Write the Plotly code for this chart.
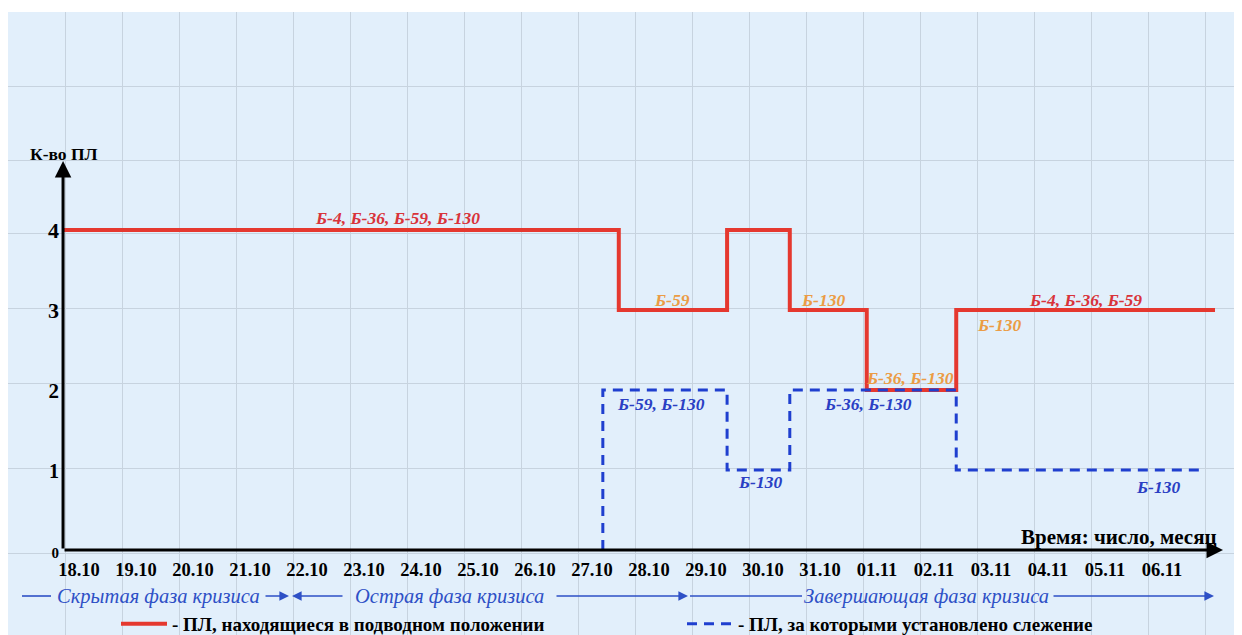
import plotly.graph_objects as go

# ---------------- data ----------------
day_labels = ["18.10", "19.10", "20.10", "21.10", "22.10", "23.10", "24.10",
              "25.10", "26.10", "27.10", "28.10", "29.10", "30.10", "31.10",
              "01.11", "02.11", "03.11", "04.11", "05.11", "06.11"]
day_index = list(range(len(day_labels)))

count_ticks = [0, 1, 2, 3, 4]
count_tick_text = ["<span style='font-size:15px'>0</span>",
                   "<span style='font-size:20px'>1</span>",
                   "<span style='font-size:21px'>2</span>",
                   "<span style='font-size:22px'>3</span>",
                   "<span style='font-size:22px'>4</span>"]

# submarines submerged (step line, time in days from 18.10)
sub_x = [-0.28, 9.47, 11.37, 12.47, 13.82, 15.39, 19.93]
sub_y = [4, 3, 4, 3, 2, 3, 3]
# submarines under tracking
track_x = [9.19, 9.19, 11.37, 12.47, 15.39, 19.72]
track_y = [0, 2, 1, 2, 1, 1]

sub_name = "- ПЛ, находящиеся в подводном положении"
track_name = "- ПЛ, за которыми установлено слежение"

# boat labels: text, level they annotate
label_text = ["Б-4, Б-36, Б-59, Б-130", "Б-59", "Б-130", "Б-36, Б-130", "Б-130",
              "Б-4, Б-36, Б-59", "Б-59, Б-130", "Б-130", "Б-36, Б-130", "Б-130"]
label_level = [4, 3, 3, 2, 3, 3, 2, 1, 2, 1]

# ---------------- styling helpers (screen pixels) ----------------
SCR_W = 1242
BODY = 8                          # default html body margin
PL, PT = 8, 12                    # plot area top-left on screen
PB = 645                          # plot area bottom on screen (below the window)
FIG_W, FIG_H = SCR_W - BODY, PB - BODY
X0_PX, X_STEP = 79.0, 57.0        # pixel of day 0 and pixels per day
Y0_PX, Y_STEP = 550.0, 80.0       # pixel of count 0 and pixels per unit
PW, PH = SCR_W - PL, PB - PT


def px2x(px):
    return (px - X0_PX) / X_STEP


def px2y(py):
    return (Y0_PX - py) / Y_STEP


x_range = [px2x(PL), px2x(SCR_W)]
y_range = [px2y(PB), px2y(PT)]

SERIF = "Liberation Serif"
RED = "#e5382f"
RED_TXT = "#d9333a"
ORANGE = "#eb9c45"
BLUE = "#1f3fcf"
BLUE_TXT = "#2a3fc4"
PHASE = "#2e50c6"
BG = "#e2effb"
GRID = "#c7d3df"

fig = go.Figure()

fig.add_trace(go.Scatter(
    x=sub_x, y=sub_y, mode="lines", line_shape="hv",
    line=dict(color=RED, width=4), name=sub_name, legendwidth=505,
    hoverinfo="skip"))
fig.add_trace(go.Scatter(
    x=track_x, y=track_y, mode="lines", line_shape="hv",
    line=dict(color=BLUE, width=3, dash="10px,7px"), name=track_name,
    legendwidth=420, hoverinfo="skip"))
# empty trace to hold the grid overlay axes
fig.add_trace(go.Scatter(x=[], y=[], xaxis="x2", yaxis="y2",
                         showlegend=False, hoverinfo="skip"))

ann = []

# (x centre in px, vertical offset in px from its level, colour)
label_style = [(397, 12, RED_TXT), (672, 10, ORANGE), (823, 10, ORANGE),
               (910, 12, ORANGE), (999, -15, ORANGE), (1085, 10, RED_TXT),
               (661, -14, BLUE_TXT), (760, -12, BLUE_TXT), (868, -14, BLUE_TXT),
               (1158, -17, BLUE_TXT)]
for txt, lvl, (cx, dy, col) in zip(label_text, label_level, label_style):
    ann.append(dict(x=px2x(cx), y=lvl, yshift=dy, xref="x", yref="y", text=txt,
                    showarrow=False, xanchor="center", yanchor="middle",
                    font=dict(family=SERIF, size=17.5, color=col,
                              weight="bold", style="italic")))

# axis arrows
ann.append(dict(x=px2x(1223), y=0, ax=sub_x[0], ay=0, xref="x", yref="y",
                axref="x", ayref="y", text="", showarrow=True, arrowhead=2,
                arrowsize=1.1, arrowwidth=3, arrowcolor="black"))
ann.append(dict(x=sub_x[0], y=px2y(161), ax=sub_x[0], ay=0, xref="x", yref="y",
                axref="x", ayref="y", text="", showarrow=True, arrowhead=2,
                arrowsize=1.1, arrowwidth=3, arrowcolor="black"))
ann.append(dict(x=px2x(64), y=px2y(154), xref="x", yref="y", text="К-во ПЛ",
                showarrow=False, xanchor="center", yanchor="middle",
                font=dict(family=SERIF, size=17.5, color="black", weight="bold")))
ann.append(dict(x=px2x(1219), y=px2y(537), xref="x", yref="y",
                text="Время: число, месяц", showarrow=False, xanchor="right",
                yanchor="middle",
                font=dict(family=SERIF, size=21, color="black", weight="bold")))

# phase row
PY = px2y(596)
phase_font = dict(family=SERIF, size=20.5, color=PHASE, style="italic")
for txt, cx in [("Скрытая фаза кризиса", 158), ("Острая фаза кризиса", 449),
                ("Завершающая фаза кризиса", 926)]:
    ann.append(dict(x=px2x(cx), y=PY, xref="x", yref="y", text=txt,
                    showarrow=False, xanchor="center", yanchor="middle",
                    font=phase_font))
for tail, tip in [(264, 289), (344, 292), (555, 688), (1052, 1214)]:
    ann.append(dict(x=px2x(tip), y=PY, ax=px2x(tail), ay=PY, xref="x", yref="y",
                    axref="x", ayref="y", text="", showarrow=True, arrowhead=2,
                    arrowsize=1.2, arrowwidth=1.6, arrowcolor=PHASE))

shapes = []
for a, b in [(22, 51), (690, 802)]:
    shapes.append(dict(type="line", xref="x", yref="y", x0=px2x(a), x1=px2x(b),
                       y0=PY, y1=PY, line=dict(color=PHASE, width=1.6)))

fig.update_layout(
    width=FIG_W, height=FIG_H,
    margin=dict(l=PL - BODY, r=0, t=PT - BODY, b=0),
    paper_bgcolor="white", plot_bgcolor=BG,
    annotations=ann, shapes=shapes,
    showlegend=True,
    legend=dict(orientation="h", x=(116 - PL) / PW, xanchor="left",
                y=(PB - 624) / PH, yanchor="middle",
                bgcolor="rgba(0,0,0,0)", itemwidth=46,
                font=dict(family=SERIF, size=19, color="black", weight="bold")),
    xaxis=dict(range=x_range, anchor="free", position=(PB - Y0_PX) / PH,
               tickmode="array", tickvals=day_index, ticktext=day_labels,
               showgrid=False, zeroline=False, showline=False, ticks="",
               ticklabelstandoff=6,
               tickfont=dict(family=SERIF, size=18.5, color="black", weight="bold")),
    yaxis=dict(range=y_range, anchor="free", position=(63 - PL) / PW,
               tickmode="array", tickvals=count_ticks, ticktext=count_tick_text,
               showgrid=False, zeroline=False, showline=False, ticks="",
               ticklabelstandoff=4,
               tickfont=dict(family=SERIF, size=22, color="black", weight="bold")),
    xaxis2=dict(range=x_range, overlaying="x", anchor="y2", tick0=px2x(65),
                dtick=1, showgrid=True, gridcolor=GRID, gridwidth=1,
                showticklabels=False, zeroline=False, ticks=""),
    yaxis2=dict(range=y_range, overlaying="y", anchor="x2", tickmode="array",
                tickvals=[px2y(p) for p in (553, 468, 383, 308, 233, 160, 86)],
                showgrid=True, gridcolor=GRID, gridwidth=1,
                showticklabels=False, zeroline=False, ticks=""),
)

fig.write_html("out.html")
